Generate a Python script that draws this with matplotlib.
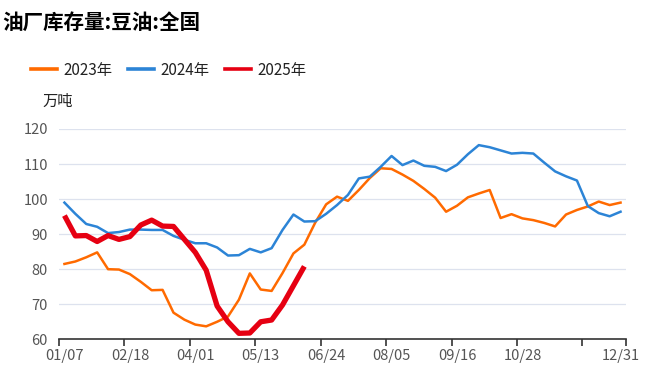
import matplotlib
matplotlib.use("Agg")
import matplotlib.pyplot as plt
from matplotlib.lines import Line2D
import datetime as dt

plt.rcParams['font.family'] = ['Noto Sans CJK SC', 'DejaVu Sans']

# categories: weekly, 52 points, last labelled 12/31
start = dt.date(2023, 1, 7)
categories = [(start + dt.timedelta(days=7 * i)).strftime("%m/%d") for i in range(51)] + ["12/31"]

s2023 = [81.5, 82.2, 83.4, 84.8, 80.0, 79.9, 78.6, 76.4, 74.0, 74.1,
         67.6, 65.6, 64.2, 63.7, 65.0, 66.5, 71.3, 78.8, 74.2, 73.8,
         78.9, 84.5, 87.0, 93.3, 98.5, 100.7, 99.5, 102.6, 106.0, 108.8,
         108.6, 107.0, 105.2, 102.9, 100.4, 96.4, 98.1, 100.5, 101.6, 102.6,
         94.6, 95.7, 94.5, 94.0, 93.2, 92.2, 95.6, 96.9, 97.9, 99.3,
         98.3, 99.0]
s2024 = [99.0, 95.8, 92.9, 92.1, 90.3, 90.6, 91.3, 91.3, 91.2, 91.2,
         89.5, 88.4, 87.4, 87.4, 86.2, 83.9, 84.0, 85.8, 84.8, 86.0,
         91.2, 95.6, 93.6, 93.7, 95.8, 98.3, 101.2, 105.9, 106.4, 109.2,
         112.3, 109.7, 111.0, 109.5, 109.2, 108.0, 109.8, 112.8, 115.4, 114.8,
         113.9, 113.0, 113.2, 113.0, 110.4, 107.9, 106.5, 105.3, 98.0, 96.0,
         95.1, 96.4]
s2025 = [95.3, 89.5, 89.6, 87.9, 89.6, 88.5, 89.3, 92.6, 94.0, 92.3,
         92.2, 88.5, 84.8, 79.7, 69.5, 65.0, 61.7, 61.8, 65.0, 65.5,
         69.8, 75.3, 80.8]

yticks = [60, 70, 80, 90, 100, 110, 120]
label_idx = [0, 6, 12, 18, 24, 30, 36, 42, 51]
tick_bounds = [0, 6, 12, 18, 24, 30, 36, 42, 48, 52]

c23, c24, c25 = "#FF6A00", "#2C84D6", "#E60012"

fig = plt.figure(figsize=(6.49, 3.76), dpi=100)
ax = fig.add_axes([59 / 649, 1 - 339.3 / 376, (626 - 59) / 649, (339.3 - 129) / 376])

x23 = list(range(len(s2023)))
x24 = list(range(len(s2024)))
x25 = list(range(len(s2025)))
ax.plot(x23, s2023, color=c23, lw=1.8, solid_joinstyle='round', zorder=3)
ax.plot(x24, s2024, color=c24, lw=1.8, solid_joinstyle='round', zorder=3)
ax.plot(x25, s2025, color=c25, lw=3.8, solid_joinstyle='round', solid_capstyle='butt', zorder=4)

ax.set_xlim(-0.5, 51.5)
ax.set_ylim(60, 120)
ax.set_yticks(yticks)
ax.set_yticklabels([str(v) for v in yticks], color="#555555", fontsize=10.5)
ax.tick_params(axis='y', length=0, pad=8)
for v in yticks[1:]:
    ax.axhline(v, color="#DDE2EE", lw=0.9, zorder=1)

# tick marks at band boundaries, labels at band centres
ax.set_xticks([b - 0.5 for b in tick_bounds])
ax.set_xticklabels([])
ax.tick_params(axis='x', which='major', length=5, width=1.2, color="#333333", direction='out')
ax.set_xticks(label_idx, minor=True)
ax.set_xticklabels([categories[i] for i in label_idx], minor=True, color="#555555", fontsize=10.5)
ax.tick_params(axis='x', which='minor', length=0, pad=7)

for side in ['top', 'right', 'left']:
    ax.spines[side].set_visible(False)
ax.spines['bottom'].set_color("#333333")
ax.spines['bottom'].set_linewidth(1.2)

fig.text(2 / 649, 1 - 22 / 376, "油厂库存量:豆油:全国", fontsize=14.8, fontweight='bold',
         ha='left', va='center', color="#000000")

handles = [Line2D([0], [0], color=c23, lw=2.6),
           Line2D([0], [0], color=c24, lw=2.6),
           Line2D([0], [0], color=c25, lw=2.6)]
leg = fig.legend(handles, ["2023年", "2024年", "2025年"], loc='center left',
                 bbox_to_anchor=(17 / 649, 1 - 70 / 376), ncol=3, frameon=False,
                 fontsize=11, handlelength=1.7, handletextpad=0.45, columnspacing=1.0)
for t in leg.get_texts():
    t.set_color("#222222")

fig.text(42 / 649, 1 - 101 / 376, "万吨", fontsize=11, ha='left', va='center', color="#222222")

fig.savefig("out.png", dpi=100)
